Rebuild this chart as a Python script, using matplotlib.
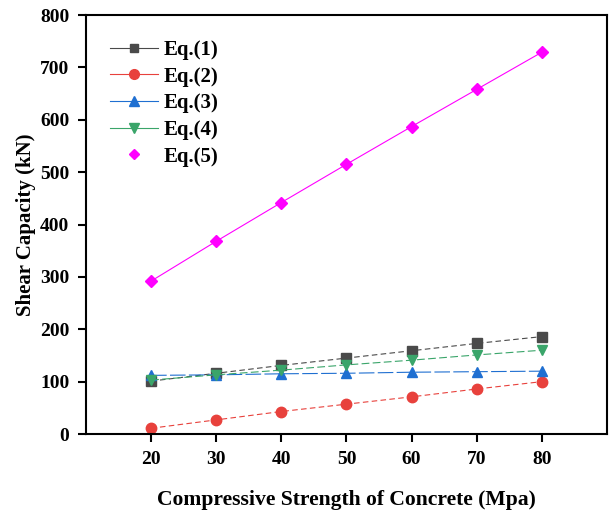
import matplotlib
matplotlib.use('Agg')
import matplotlib.pyplot as plt
from matplotlib.lines import Line2D

plt.rcParams['font.family'] = ['Liberation Serif', 'DejaVu Serif']
plt.rcParams['font.weight'] = 'bold'

# data
strength = [20, 30, 40, 50, 60, 70, 80]
eq1 = [101, 116, 131, 145, 159, 173, 186]
eq2 = [11, 27, 43, 57, 71, 86, 100]
eq3 = [112, 113, 115, 116, 118, 119, 120]
eq4 = [103, 113, 122, 132, 141, 151, 160]
eq5 = [292, 368, 442, 515, 587, 658, 729]
labels = ['Eq.(1)', 'Eq.(2)', 'Eq.(3)', 'Eq.(4)', 'Eq.(5)']

colors = ['#4a4a4a', '#e8413c', '#1f6fd1', '#3aa56a', '#ff00ff']
markers = ['s', 'o', '^', 'v', 'D']
sizes = [6.5, 7.5, 7.5, 7.5, 6]
styles = [(0, (5, 3)), (0, (5, 3)), (0, (14, 3)), (0, (7, 3)), '-']

fig = plt.figure(figsize=(6.09, 5.12), dpi=100)
ax = fig.add_axes([0.1412, 0.1523, 0.8555, 0.8184])

series = [eq1, eq2, eq3, eq4, eq5]
for vals, c, m, s, ls in zip(series, colors, markers, sizes, styles):
    ax.plot(strength, vals, color=c, marker=m, ms=s, lw=0.8, ls=ls)

ax.set_xlim(10, 90)
ax.set_ylim(0, 800)
ax.set_xticks(strength)
ax.set_yticks(range(0, 801, 100))
ax.tick_params(direction='out', length=6, width=1.5, labelsize=14, pad=6, top=False, right=False)
for sp in ax.spines.values():
    sp.set_linewidth(1.5)

ax.set_xlabel('Compressive Strength of Concrete (Mpa)', fontsize=15.6, fontweight='bold', labelpad=16)
ax.set_ylabel('Shear Capacity (kN)', fontsize=15, fontweight='bold', labelpad=3)

# legend: lines solid for 1-4, marker only for 5
handles = []
for i, (c, m, s) in enumerate(zip(colors, markers, sizes)):
    handles.append(Line2D([], [], color=c, marker=m, ms=s - 0.5, lw=0.8,
                          ls='-' if i < 4 else 'none'))
ax.legend(handles, labels, loc='upper left', bbox_to_anchor=(0.01, 0.985), frameon=False,
          handlelength=2.3, labelspacing=0.32, handletextpad=0.3,
          prop={'weight': 'bold', 'size': 15})

fig.savefig('out.png', dpi=100)
